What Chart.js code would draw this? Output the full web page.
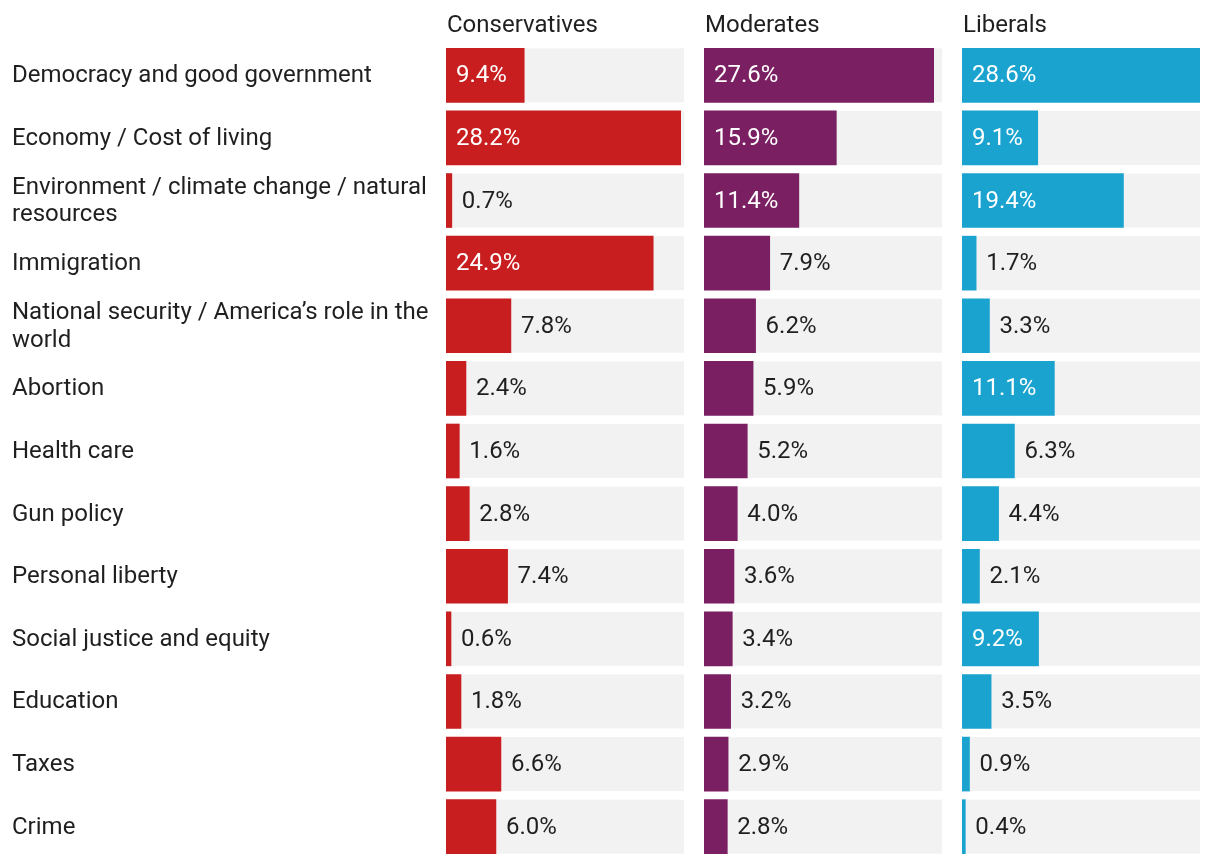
<!DOCTYPE html>
<html><head><meta charset="utf-8">
<script src="https://cdn.jsdelivr.net/npm/chart.js@4.4.0/dist/chart.umd.min.js"></script>
<style>
html,body{margin:0;padding:0;background:#fff;}
#wrap{position:relative;width:1220px;height:864px;overflow:hidden;}
canvas{position:absolute;top:0;}
</style></head><body>
<div id="wrap">
<canvas id="c0" width="684" height="872" style="left:0"></canvas>
<canvas id="c1" width="238" height="872" style="left:704px"></canvas>
<canvas id="c2" width="238" height="872" style="left:962px"></canvas>
</div>
<script>
const categories = [
  "Democracy and good government",
  "Economy / Cost of living",
  ["Environment / climate change / natural", "resources"],
  "Immigration",
  ["National security / America\u2019s role in the", "world"],
  "Abortion",
  "Health care",
  "Gun policy",
  "Personal liberty",
  "Social justice and equity",
  "Education",
  "Taxes",
  "Crime"
];
const conservatives = [9.4, 28.2, 0.7, 24.9, 7.8, 2.4, 1.6, 2.8, 7.4, 0.6, 1.8, 6.6, 6.0];
const moderates     = [27.6, 15.9, 11.4, 7.9, 6.2, 5.9, 5.2, 4.0, 3.6, 3.4, 3.2, 2.9, 2.8];
const liberals      = [28.6, 9.1, 19.4, 1.7, 3.3, 11.1, 6.3, 4.4, 2.1, 9.2, 3.5, 0.9, 0.4];
const groupTitles = ["Conservatives", "Moderates", "Liberals"];
const groupValues = [conservatives, moderates, liberals];
const groupColors = ["#C91E1F", "#7B1F63", "#1AA3CF"];

const FONT = "Roboto, 'Noto Sans', sans-serif";
const FS = 24;
const TEXT = "#1f1f1f";
const PANEL_BG = "#F2F2F2";
const xMax = Math.max(...conservatives, ...moderates, ...liberals);
const insideThreshold = 8.5;

function makeChart(id, values, title, color, showLabels) {
  const panelBg = {
    id: 'panelBg',
    beforeDatasetsDraw(chart) {
      const ctx = chart.ctx, a = chart.chartArea;
      const meta = chart.getDatasetMeta(0);
      ctx.save();
      ctx.fillStyle = PANEL_BG;
      meta.data.forEach(el => {
        const p = el.getProps(['y', 'height'], true);
        ctx.fillRect(a.left, p.y - p.height / 2, a.right - a.left, p.height);
      });
      ctx.restore();
    }
  };
  const panelTitle = {
    id: 'panelTitle',
    afterDraw(chart) {
      const ctx = chart.ctx;
      ctx.save();
      ctx.font = FS + "px " + FONT;
      ctx.fillStyle = TEXT;
      ctx.textAlign = 'left';
      ctx.textBaseline = 'alphabetic';
      ctx.fillText(title, chart.chartArea.left + 1, 32);
      ctx.restore();
    }
  };
  const valueLabels = {
    id: 'valueLabels',
    afterDatasetsDraw(chart) {
      const ctx = chart.ctx;
      const meta = chart.getDatasetMeta(0);
      const data = chart.data.datasets[0].data;
      ctx.save();
      ctx.font = FS + "px " + FONT;
      ctx.textAlign = 'left';
      ctx.textBaseline = 'alphabetic';
      meta.data.forEach((el, i) => {
        const p = el.getProps(['x', 'y', 'base'], true);
        const v = data[i];
        const txt = v.toFixed(1) + "%";
        if (v >= insideThreshold) {
          ctx.fillStyle = "#FFFFFF";
          ctx.fillText(txt, p.base + 10, p.y + 7);
        } else {
          ctx.fillStyle = TEXT;
          ctx.fillText(txt, p.x + 10, p.y + 7);
        }
      });
      ctx.restore();
    }
  };
  return new Chart(document.getElementById(id), {
    type: 'bar',
    data: {
      labels: categories,
      datasets: [{
        data: values,
        backgroundColor: color,
        borderWidth: 0,
        barThickness: 54,
        categoryPercentage: 1
      }]
    },
    options: {
      indexAxis: 'y',
      responsive: false,
      animation: false,
      events: [],
      layout: { padding: { top: 44, bottom: 14, left: showLabels ? 12 : 0, right: 0 } },
      plugins: { legend: { display: false }, tooltip: { enabled: false }, title: { display: false } },
      scales: {
        x: { display: false, min: 0, max: xMax },
        y: {
          display: showLabels,
          grid: { display: false, drawTicks: false },
          border: { display: false },
          ticks: {
            crossAlign: 'far',
            color: TEXT,
            padding: 0,
            labelOffset: 1,
            font: { family: FONT, size: FS, lineHeight: 1.15 }
          },
          afterFit(scale) { if (showLabels) scale.width = 434; }
        }
      }
    },
    plugins: [panelBg, valueLabels, panelTitle]
  });
}

makeChart('c0', groupValues[0], groupTitles[0], groupColors[0], true);
makeChart('c1', groupValues[1], groupTitles[1], groupColors[1], false);
makeChart('c2', groupValues[2], groupTitles[2], groupColors[2], false);
</script>
</body></html>
